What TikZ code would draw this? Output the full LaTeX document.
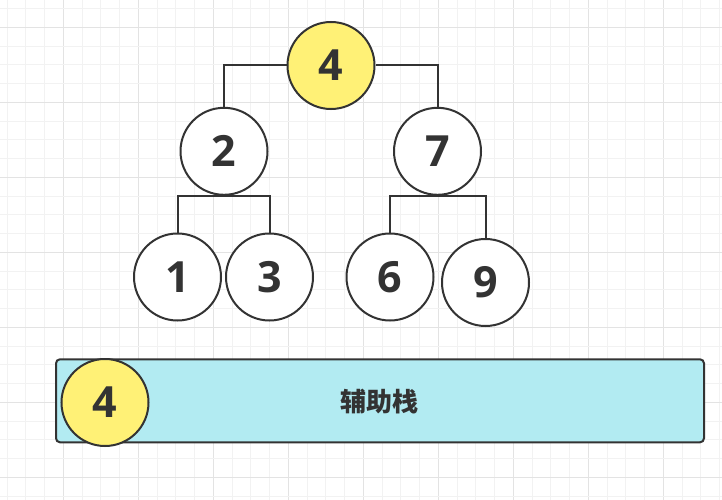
\documentclass[tikz,border=0pt]{standalone}
\usepackage{fontspec}
\setmainfont{Open Sans}[BoldFont={Open Sans Bold}]
\newfontfamily\cjk{Noto Sans CJK SC}
\definecolor{ink}{HTML}{333333}
\definecolor{yel}{HTML}{FFF176}
\definecolor{cyanbox}{HTML}{B2EBF2}
\definecolor{gminor}{HTML}{F2F2F2}
\definecolor{gmajor}{HTML}{E3E3E3}
\tikzset{
  treenode/.style={circle, draw=ink, line width=2pt, fill=white, minimum size=87pt, inner sep=0pt,
    text=ink, font=\bfseries\fontsize{43}{43}\selectfont},
  hot/.style={treenode, fill=yel},
  link/.style={draw=ink, line width=2pt},
  stackbox/.style={draw=ink, line width=2pt, fill=cyanbox, rounded corners=4pt, minimum width=648pt,
    minimum height=83pt, inner sep=0pt},
}
\begin{document}
\begin{tikzpicture}[x=1pt, y=-1pt]
\useasboundingbox (0,0) rectangle (722,500);
\fill[white] (0,0) rectangle (722,500);
% grid
\foreach \i in {0,...,38} {
  \pgfmathsetmacro{\xx}{7.08+18.75*\i}
  \pgfmathtruncatemacro{\mm}{mod(\i+1,4)}
  \ifnum\mm=0 \draw[gmajor, line width=1pt] (\xx,0) -- (\xx,500);
  \else \draw[gminor, line width=1pt] (\xx,0) -- (\xx,500); \fi
}
\foreach \j in {0,...,26} {
  \pgfmathsetmacro{\yy}{8.55+18.75*\j}
  \pgfmathtruncatemacro{\mm}{mod(\j+3,4)}
  \ifnum\mm=0 \draw[gmajor, line width=1pt] (0,\yy) -- (722,\yy);
  \else \draw[gminor, line width=1pt] (0,\yy) -- (722,\yy); \fi
}
% tree
\node[hot] (n4) at (331,65.5) {4};
\node[treenode] (n2) at (224,151.3) {2};
\node[treenode] (n7) at (437.5,151.3) {7};
\node[treenode] (n1) at (177.5,277) {1};
\node[treenode] (n3) at (269.5,277) {3};
\node[treenode] (n6) at (390,277) {6};
\node[treenode] (n9) at (485.5,282.5) {9};
\draw[link] (n2.north) |- (n4.west);
\draw[link] (n4.east) -| (n7.north);
\draw[link] (n1.north) |- (n2.south) -| (n3.north);
\draw[link] (n6.north) |- (n7.south) -| (n9.north);
% stack
\node[stackbox] (stack) at (380,400.8) {};
\node[hot] (s4) at (105,402.5) {4};
\node[text=ink, font=\cjk\bfseries\fontsize{26}{26}\selectfont] (label) at (379,402) {辅助栈};
\end{tikzpicture}
\end{document}
